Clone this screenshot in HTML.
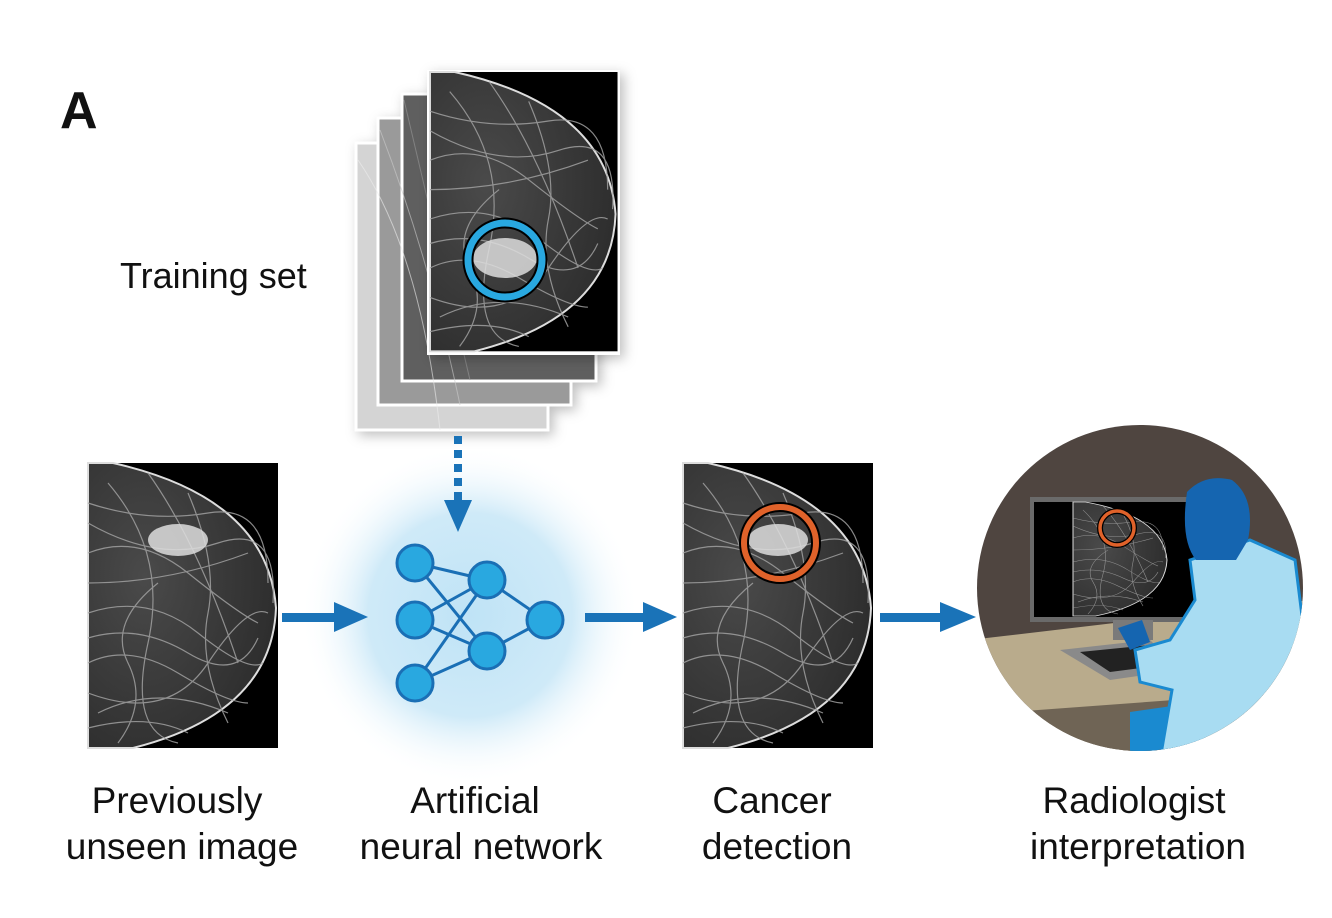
<!DOCTYPE html>
<html><head><meta charset="utf-8"><style>
html,body{margin:0;padding:0;background:#fff;}
svg{display:block}
text{font-family:"Liberation Sans",Arial,sans-serif;fill:#111}
</style></head><body>
<svg width="1332" height="918" viewBox="0 0 1332 918" xmlns="http://www.w3.org/2000/svg">
<defs>
<radialGradient id="glow" cx="50%" cy="50%" r="50%">
<stop offset="0" stop-color="#bfe3f6"/><stop offset="0.6" stop-color="#cfeaf8"/><stop offset="1" stop-color="#ffffff" stop-opacity="0"/>
</radialGradient>
<radialGradient id="tis" cx="30%" cy="40%" r="80%">
<stop offset="0" stop-color="#4a4a4a"/><stop offset="1" stop-color="#2a2a2a"/>
</radialGradient>
<filter id="sh" x="-20%" y="-20%" width="140%" height="140%"><feDropShadow dx="4" dy="4" stdDeviation="6" flood-color="#000" flood-opacity="0.25"/></filter>
<clipPath id="cc"><circle cx="1140" cy="588" r="163"/></clipPath>
<g id="breast">
<rect x="0" y="0" width="190" height="285" fill="#000"/>
<path d="M0,0 L25,0 Q180,35 188,145 Q184,250 45,285 L0,285 Z" fill="url(#tis)" stroke="#ddd" stroke-width="2"/>
<g stroke="#a0a0a0" stroke-width="1.2" fill="none" opacity="0.85">
<path d="M0,40 Q60,60 120,50 T180,120"/><path d="M0,90 Q50,70 100,110 T170,160"/>
<path d="M0,150 Q60,130 110,170 T175,200"/><path d="M0,200 Q40,180 90,210 T160,240"/>
<path d="M10,250 Q70,220 140,250"/><path d="M20,20 Q80,90 60,180 T90,280"/>
<path d="M60,10 Q110,80 150,200"/><path d="M0,120 Q80,120 160,90"/>
<path d="M0,230 Q80,260 120,200 T180,150"/><path d="M0,60 Q70,100 130,80 T185,140"/>
<path d="M0,175 Q50,160 100,190 T170,175"/><path d="M30,280 Q60,240 40,200 T70,120"/>
<path d="M100,30 Q130,100 120,150 T140,260"/><path d="M0,265 Q60,250 100,270"/>
</g>
</g>
</defs>
<rect width="1332" height="918" fill="#fff"/>
<text x="60" y="128" font-size="52" font-weight="bold">A</text>
<text x="120" y="288" font-size="36">Training set</text>

<!-- glow -->
<circle cx="470" cy="615" r="170" fill="url(#glow)"/>

<!-- stacked frames -->
<g filter="url(#sh)">
<rect x="356" y="143" width="192" height="287" fill="#d4d4d4" stroke="#fff" stroke-width="3"/>
<rect x="378" y="118" width="193" height="287" fill="#9a9a9a" stroke="#fff" stroke-width="3"/>
<rect x="402" y="94" width="194" height="287" fill="#5e5e5e" stroke="#fff" stroke-width="3"/>
</g>
<g opacity="0.6" fill="none"><path d="M358,160 Q420,250 440,430" stroke="#eee"/><path d="M380,130 Q430,260 460,405" stroke="#ccc"/><path d="M404,100 Q440,250 470,380" stroke="#999"/></g>
<g filter="url(#sh)"><rect x="427" y="70" width="193" height="285" fill="#fff"/></g>
<g transform="translate(430,72) scale(0.987,0.98)"><use href="#breast"/></g>
<ellipse cx="505" cy="258" rx="32" ry="20" fill="#ddd" opacity="0.85"/>
<circle cx="505" cy="260" r="37" fill="none" stroke="#000" stroke-width="11"/>
<circle cx="505" cy="260" r="37" fill="none" stroke="#29a8e0" stroke-width="7"/>

<!-- dotted arrow -->
<line x1="458" y1="436" x2="458" y2="500" stroke="#1a73b8" stroke-width="8" stroke-dasharray="8,6"/>
<path d="M444,500 L472,500 L458,532 Z" fill="#1a73b8"/>

<!-- left image -->
<g transform="translate(88,463)"><use href="#breast"/></g>
<ellipse cx="178" cy="540" rx="30" ry="16" fill="#ddd" opacity="0.85"/>

<!-- arrows -->
<g fill="#1a73b8">
<rect x="282" y="613" width="56" height="9"/><path d="M334,602 L368,617 L334,632 Z"/>
<rect x="585" y="613" width="62" height="9"/><path d="M643,602 L677,617 L643,632 Z"/>
<rect x="880" y="613" width="64" height="9"/><path d="M940,602 L976,617 L940,632 Z"/>
</g>

<!-- NN -->
<g stroke="#1a6fb5" stroke-width="3">
<line x1="415" y1="563" x2="487" y2="580"/><line x1="415" y1="563" x2="487" y2="651"/>
<line x1="415" y1="620" x2="487" y2="580"/><line x1="415" y1="620" x2="487" y2="651"/>
<line x1="415" y1="683" x2="487" y2="580"/><line x1="415" y1="683" x2="487" y2="651"/>
<line x1="487" y1="580" x2="545" y2="620"/><line x1="487" y1="651" x2="545" y2="620"/>
</g>
<g fill="#29a8e0" stroke="#1a6fb5" stroke-width="3">
<circle cx="415" cy="563" r="18"/><circle cx="415" cy="620" r="18"/><circle cx="415" cy="683" r="18"/>
<circle cx="487" cy="580" r="18"/><circle cx="487" cy="651" r="18"/><circle cx="545" cy="620" r="18"/>
</g>

<!-- cancer image -->
<g transform="translate(683,463)"><use href="#breast"/></g>
<ellipse cx="778" cy="540" rx="30" ry="16" fill="#ddd" opacity="0.85"/>
<circle cx="780" cy="543" r="36" fill="none" stroke="#000" stroke-width="10"/>
<circle cx="780" cy="543" r="36" fill="none" stroke="#e0622a" stroke-width="6"/>

<!-- radiologist -->
<g clip-path="url(#cc)">
<rect x="970" y="420" width="340" height="340" fill="#4f4540"/>
<path d="M970,640 L1310,600 L1310,760 L970,760 Z" fill="#b9ab8c"/>
<path d="M970,715 L1310,690 L1310,760 L970,760 Z" fill="#3e3631" opacity="0.6"/>
<rect x="1030" y="497" width="205" height="125" fill="#6a6a6a"/>
<rect x="1034" y="502" width="197" height="115" fill="#000"/>
<g transform="translate(1073,502) scale(0.5,0.4)"><use href="#breast"/></g>
<rect x="1034" y="502" width="38" height="115" fill="#000"/>
<circle cx="1117" cy="528" r="17" fill="none" stroke="#000" stroke-width="6"/>
<circle cx="1117" cy="528" r="17" fill="none" stroke="#e0622a" stroke-width="3.5"/>
<rect x="1113" y="620" width="40" height="20" fill="#7a7a7a"/>
<path d="M1060,650 L1150,640 L1180,670 L1110,680 Z" fill="#8a8a8a"/>
<path d="M1080,652 L1150,645 L1165,665 L1110,672 Z" fill="#222"/>
<path d="M1225,660 Q1290,640 1310,650 L1310,760 L1235,760 Z" fill="#5c5c5c"/>
<path d="M1130,712 L1200,702 L1210,760 L1130,760 Z" fill="#1a8ad0"/>
<path d="M1190,560 L1250,540 L1295,560 L1305,640 L1270,700 L1235,760 L1160,760 L1172,690 L1140,682 L1135,650 L1170,640 L1195,600 Z" fill="#a8dcf2" stroke="#1a8ad0" stroke-width="3"/>
<path d="M1187,492 Q1205,473 1232,480 Q1256,498 1248,540 L1236,560 L1196,560 Q1180,540 1187,492 Z" fill="#1565b0"/>
<path d="M1118,628 L1142,620 L1150,642 L1130,650 Z" fill="#1565b0"/>
</g>

<g font-size="37" text-anchor="middle">
<text x="177" y="813">Previously</text><text x="182" y="859">unseen image</text>
<text x="475" y="813">Artificial</text><text x="481" y="859">neural network</text>
<text x="772" y="813">Cancer</text><text x="777" y="859">detection</text>
<text x="1134" y="813">Radiologist</text><text x="1138" y="859">interpretation</text>
</g>
</svg>
</body></html>
